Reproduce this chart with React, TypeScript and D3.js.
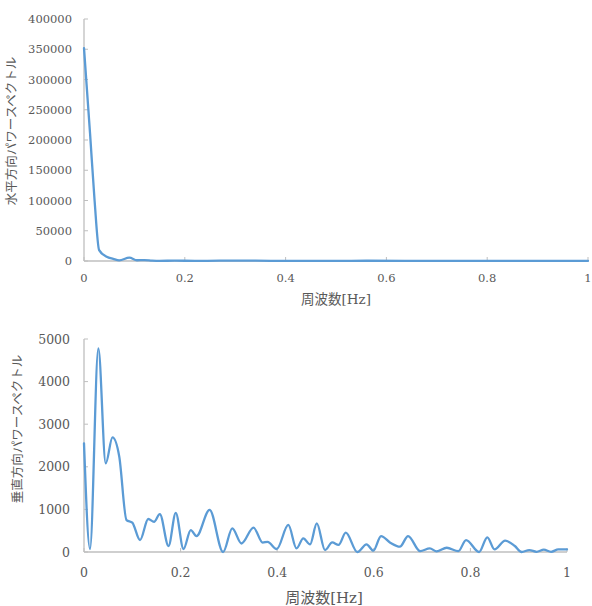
import React, { useEffect, useRef } from "react";
import * as d3 from "d3";

// horizontal power spectrum
const hFreq = [0, 0.012, 0.021, 0.03, 0.045, 0.058, 0.07, 0.09, 0.105, 0.12, 0.135, 0.15, 0.18, 0.22, 0.27, 0.34, 0.4, 0.5, 0.56, 0.7, 0.8, 1];
const hPower = [352000, 211000, 100000, 18000, 7100, 3500, 1000, 5500, 1200, 1500, 600, 200, 600, 150, 500, 500, 150, 150, 400, 150, 100, 100];

// vertical power spectrum
const vFreq = [
  0, 0.0124, 0.0297, 0.045, 0.059, 0.073, 0.088, 0.1, 0.116, 0.133, 0.145, 0.157, 0.175, 0.19, 0.206, 0.221,
  0.233, 0.26, 0.288, 0.307, 0.326, 0.351, 0.37, 0.38, 0.399, 0.423, 0.44, 0.454, 0.468, 0.482, 0.499, 0.514,
  0.527, 0.542, 0.566, 0.585, 0.599, 0.615, 0.634, 0.654, 0.671, 0.696, 0.716, 0.73, 0.751, 0.775, 0.791,
  0.818, 0.835, 0.85, 0.872, 0.892, 0.906, 0.922, 0.937, 0.952, 0.967, 0.982, 1,
];
const vPower = [
  2550, 70, 4780, 2080, 2690, 2240, 750, 690, 280, 775, 710, 890, 140, 920, 70, 515,
  375, 990, 0, 555, 200, 570, 220, 240, 70, 635, 85, 320, 180, 670, 45, 225,
  165, 455, 0, 180, 30, 375, 220, 125, 375, 20, 85, 15, 100, 20, 280,
  0, 345, 60, 265, 140, 0, 45, 5, 55, 5, 60, 60,
];

const xTicks = [0, 0.2, 0.4, 0.6, 0.8, 1];
const hTicks = [0, 50000, 100000, 150000, 200000, 250000, 300000, 350000, 400000];
const vTicks = [0, 1000, 2000, 3000, 4000, 5000];

const TEXT = "#595959";
const AXIS = "#bfbfbf";
const LINE = "#5b9bd5";
const NUM_FONT = "'DejaVu Serif', serif";
const JP_FONT = "'DejaVu Serif', 'Noto Sans CJK JP', serif";

function drawPanel(svg, opt) {
  const x = d3.scaleLinear().domain([0, 1]).range([opt.left, opt.right]);
  const y = d3.scaleLinear().domain([0, opt.yMax]).range([opt.bottom, opt.top]);
  const g = svg.append("g");

  // axes
  g.append("line").attr("x1", x(0)).attr("x2", x(1)).attr("y1", y(0)).attr("y2", y(0))
    .attr("stroke", AXIS).attr("stroke-width", 1.3);
  g.append("line").attr("x1", x(0)).attr("x2", x(0)).attr("y1", y(0)).attr("y2", y(opt.yMax))
    .attr("stroke", AXIS).attr("stroke-width", 1.3);

  g.selectAll(".xt").data(opt.xTicks).enter().append("line")
    .attr("x1", (d) => x(d)).attr("x2", (d) => x(d))
    .attr("y1", y(0)).attr("y2", y(0) - 4)
    .attr("stroke", AXIS);
  g.selectAll(".yt").data(opt.yTicks).enter().append("line")
    .attr("x1", x(0)).attr("x2", x(0) + 4)
    .attr("y1", (d) => y(d)).attr("y2", (d) => y(d))
    .attr("stroke", AXIS);

  g.selectAll(".xl").data(opt.xTicks).enter().append("text")
    .attr("x", (d) => x(d)).attr("y", opt.xLabelY)
    .attr("text-anchor", "middle")
    .attr("font-family", NUM_FONT).attr("font-size", opt.fs).attr("fill", TEXT)
    .text((d) => d3.format("~g")(d));
  g.selectAll(".yl").data(opt.yTicks).enter().append("text")
    .attr("x", opt.yLabelX).attr("y", (d) => y(d))
    .attr("dy", "0.36em")
    .attr("text-anchor", "end")
    .attr("font-family", NUM_FONT).attr("font-size", opt.fs).attr("fill", TEXT)
    .text((d) => String(d));

  // titles
  g.append("text")
    .attr("x", opt.xTitleX).attr("y", opt.xTitleY)
    .attr("text-anchor", "middle")
    .attr("font-family", JP_FONT).attr("font-size", opt.xTitleFs).attr("fill", TEXT)
    .text("周波数[Hz]");
  g.append("text")
    .attr("transform", `translate(${opt.yTitleX},${opt.yTitleY}) rotate(-90)`)
    .attr("text-anchor", "middle")
    .attr("dy", "0.35em")
    .attr("font-family", JP_FONT).attr("font-size", 12.5).attr("fill", TEXT)
    .text(opt.yTitle);

  const pts = opt.freq.map((f, i) => [f, opt.power[i]]);
  const line = d3.line().x((d) => x(d[0])).y((d) => y(d[1])).curve(d3.curveMonotoneX);
  g.append("path").attr("d", line(pts))
    .attr("fill", "none").attr("stroke", LINE)
    .attr("stroke-width", 2.3).attr("stroke-linejoin", "round").attr("stroke-linecap", "round");
}

export default function App() {
  const ref = useRef(null);

  useEffect(() => {
    const svg = d3.select(ref.current);
    svg.selectAll("*").remove();

    drawPanel(svg, {
      left: 84, right: 588, top: 19, bottom: 261, yMax: 400000,
      freq: hFreq, power: hPower, xTicks, yTicks: hTicks,
      fs: 11.5, xLabelY: 282, yLabelX: 72,
      xTitleX: 336, xTitleY: 304, xTitleFs: 13.5,
      yTitleX: 12, yTitleY: 131, yTitle: "水平方向パワースペクトル",
    });

    drawPanel(svg, {
      left: 84, right: 567, top: 339, bottom: 552, yMax: 5000,
      freq: vFreq, power: vPower, xTicks, yTicks: vTicks,
      fs: 12.5, xLabelY: 577, yLabelX: 70,
      xTitleX: 324, xTitleY: 603, xTitleFs: 15,
      yTitleX: 18, yTitleY: 429, yTitle: "垂直方向パワースペクトル",
    });
  }, []);

  return (
    <div style={{ position: "absolute", left: 0, top: 0 }}>
      <svg ref={ref} width={592} height={606} style={{ display: "block", background: "#fff" }} />
    </div>
  );
}
